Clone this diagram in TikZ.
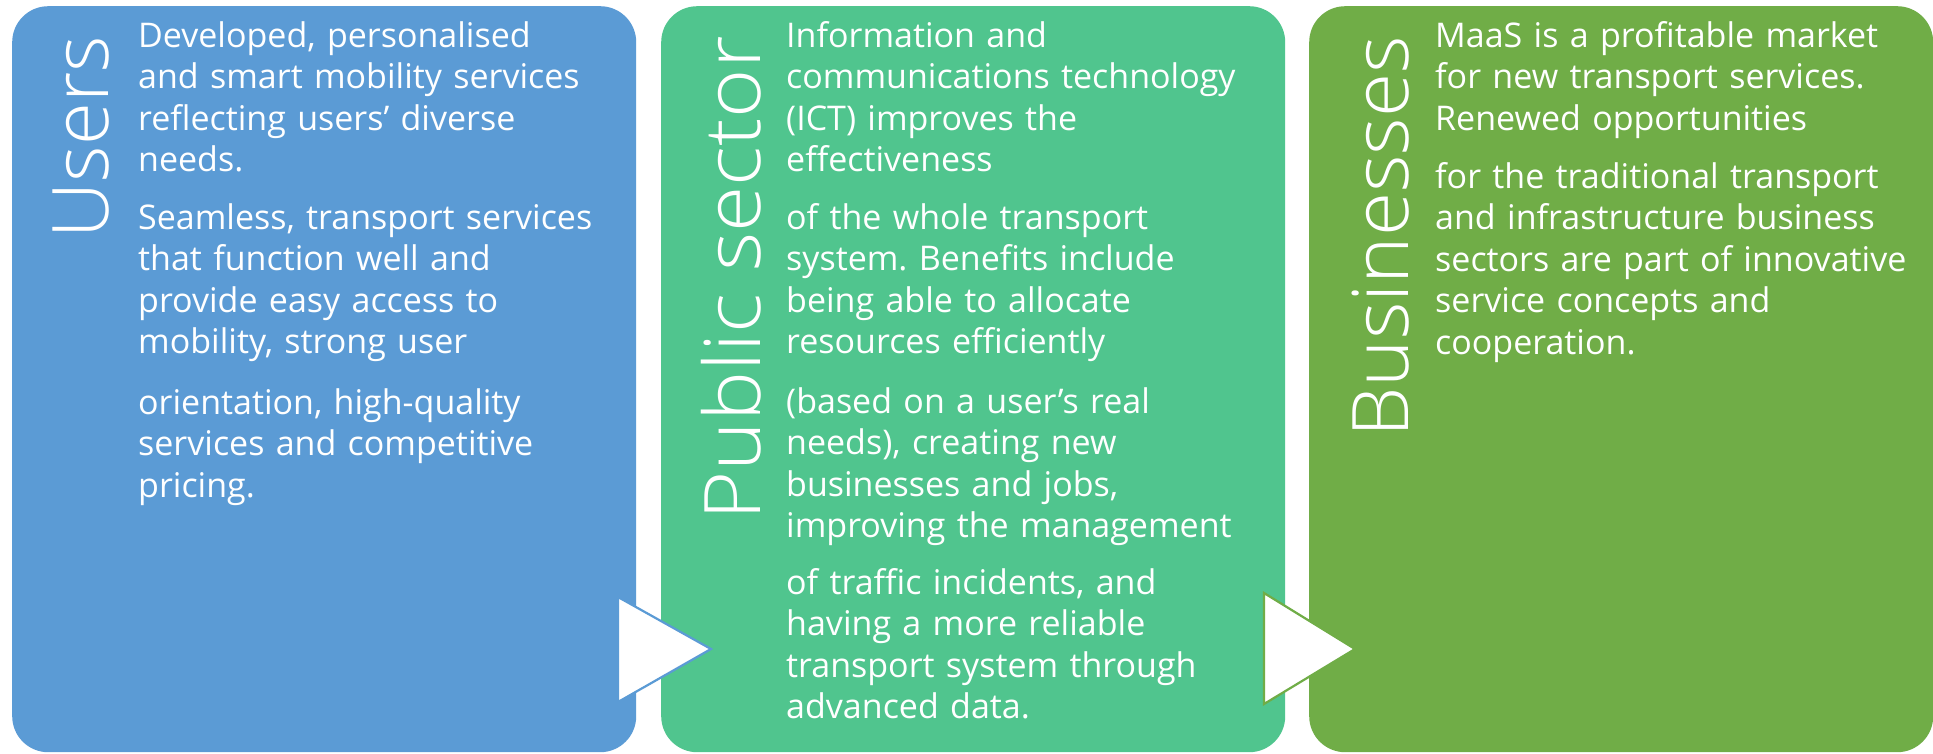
\documentclass[tikz,border=0pt]{standalone}
\usepackage{fontspec}
\usepackage{graphicx}
\setmainfont{Open Sans}
\IfFontExistsTF{Open Sans Light}{\newfontfamily\ttlfont{Open Sans Light}}{\newfontfamily\ttlfont{Open Sans}}
\definecolor{cblue}{HTML}{5B9BD5}
\definecolor{cgreen}{HTML}{50C58E}
\definecolor{colive}{HTML}{70AD47}
\frenchspacing
\begin{document}
\begin{tikzpicture}[x=1pt,y=-1pt,
  panel/.style={fill=#1, draw=none, rounded corners=36pt, anchor=north west,
    minimum width=624pt, minimum height=746pt, inner sep=0pt},
  body/.style={anchor=base west, inner sep=0pt, text=white, text width=500pt,
    align=left, font=\fontsize{34}{41.5}\selectfont\frenchspacing},
  ttl/.style={rotate=90, anchor=base east, inner sep=0pt, text=white,
    font=\ttlfont\fontsize{78}{80}\selectfont},
  tri/.style={fill=white, draw=#1, line width=2.2pt, line join=miter}
]
\useasboundingbox (0,0) rectangle (1933,753);
\fill[white] (0,0) rectangle (1933,753);

% panels
\node[panel=cblue]  (users)    at (12,6)   {};
\node[panel=cgreen] (public)   at (661,6)  {};
\node[panel=colive] (business) at (1309,6) {};

% titles
\node[ttl] (tusers)    at (108,36)  {Users};
\node[ttl] (tpublic)   at (760,36)  {\scalebox{1.078}[1]{Public sector}};
\node[ttl] (tbusiness) at (1408,36) {\scalebox{1.03}[1]{Businesses}};

% Users text
\node[body] (u1) at (138,47)  {Developed, personalised\\and smart mobility services\\reflecting users’ diverse\\needs.};
\node[body] (u2) at (138,229) {Seamless, transport services\\that function well and\\provide easy access to\\mobility, strong user};
\node[body] (u3) at (138,414) {orientation, high-quality\\services and competitive\\pricing.};

% Public sector text
\node[body] (p1) at (786,47)  {Information and\\communications technology\\(ICT) improves the\\effectiveness};
\node[body] (p2) at (786,229) {of the whole transport\\system. Benefits include\\being able to allocate\\resources efficiently};
\node[body] (p3) at (786,413) {(based on a user’s real\\needs), creating new\\businesses and jobs,\\improving the management};
\node[body] (p4) at (786,594) {of traffic incidents, and\\having a more reliable\\transport system through\\advanced data.};

% Businesses text
\node[body] (b1) at (1435,47)  {MaaS is a profitable market\\for new transport services.\\Renewed opportunities};
\node[body] (b2) at (1435,188) {for the traditional transport\\and infrastructure business\\sectors are part of innovative\\service concepts and\\cooperation.};

% arrows
\coordinate (a1t) at (618,597);
\coordinate (a1b) at (618,702);
\coordinate (a1p) at (711,649);
\draw[tri=cblue] (a1t) -- (a1p) -- (a1b) -- cycle;
\coordinate (a2t) at (1264,593);
\coordinate (a2b) at (1264,704);
\coordinate (a2p) at (1355,649);
\draw[tri=colive] (a2t) -- (a2p) -- (a2b) -- cycle;
\end{tikzpicture}
\end{document}
